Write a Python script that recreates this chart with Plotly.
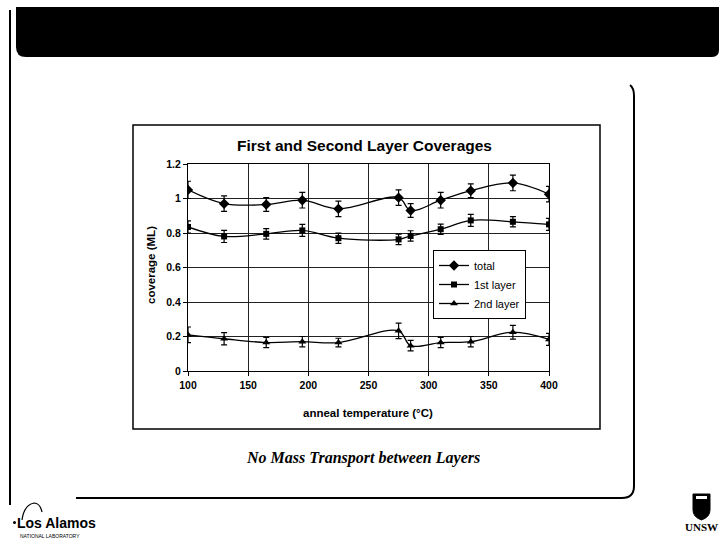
import plotly.graph_objects as go

# ---- data ----
temperature = [100, 130, 165, 195, 225, 275, 285, 310, 335, 370, 400]
total = [1.05, 0.97, 0.965, 0.99, 0.94, 1.005, 0.93, 0.99, 1.045, 1.09, 1.025]
total_err = [0.05, 0.045, 0.04, 0.045, 0.045, 0.045, 0.04, 0.045, 0.04, 0.045, 0.045]
first_layer = [0.835, 0.78, 0.795, 0.815, 0.77, 0.763, 0.783, 0.822, 0.873, 0.865, 0.85]
first_err = [0.035, 0.035, 0.03, 0.035, 0.03, 0.03, 0.03, 0.03, 0.035, 0.03, 0.035]
second_layer = [0.21, 0.187, 0.165, 0.17, 0.165, 0.233, 0.147, 0.165, 0.17, 0.225, 0.183]
second_err = [0.045, 0.035, 0.03, 0.03, 0.025, 0.045, 0.03, 0.03, 0.03, 0.04, 0.035]
x_ticks = [100, 150, 200, 250, 300, 350, 400]
y_ticks = [0, 0.2, 0.4, 0.6, 0.8, 1.0, 1.2]
y_tick_labels = ["0", "0.2", "0.4", "0.6", "0.8", "1", "1.2"]

W, H = 719, 542
SANS = "Arial, Liberation Sans, sans-serif"
SERIF = "Times New Roman, Liberation Serif, serif"


def xp(px):
    return px / W


def yp(py):
    return 1 - py / H


fig = go.Figure()

series = [
    ("total", total, total_err, "diamond", 8),
    ("1st layer", first_layer, first_err, "square", 6),
    ("2nd layer", second_layer, second_err, "triangle-up", 7),
]
for name, vals, errs, sym, size in series:
    fig.add_trace(go.Scatter(
        x=temperature, y=vals, name=name, mode="lines+markers",
        line=dict(color="black", width=1.3, shape="spline", smoothing=1),
        marker=dict(symbol=sym, size=size, color="black"),
        error_y=dict(type="data", array=errs, visible=True, color="black",
                     thickness=1.2, width=3),
    ))

axis_common = dict(
    showgrid=True, gridcolor="#222", gridwidth=1,
    showline=True, linecolor="black", linewidth=1, mirror=True,
    ticks="outside", ticklen=4, tickcolor="black",
    tickfont=dict(family=SANS, size=10.5, color="black", weight="bold"),
    zeroline=False, fixedrange=True, automargin=False,
)

fig.update_layout(
    width=W, height=H,
    margin=dict(l=0, r=0, t=0, b=0, autoexpand=False),
    paper_bgcolor="white", plot_bgcolor="white",
    showlegend=True,
    xaxis=dict(domain=[xp(188), xp(549)], range=[100, 400],
               tickvals=x_ticks, **axis_common),
    yaxis=dict(domain=[yp(371), yp(164)], range=[0, 1.2],
               tickvals=y_ticks, ticktext=y_tick_labels, **axis_common),
    legend=dict(x=xp(433), y=yp(250), xanchor="left", yanchor="top",
                bgcolor="white", bordercolor="black", borderwidth=1,
                font=dict(family=SANS, size=11, color="black"),
                tracegroupgap=0, itemwidth=30),
)

annotations = [
    dict(text="<b>First and Second Layer Coverages</b>", x=xp(365), y=yp(145),
         font=dict(family=SANS, size=15.5, color="black")),
    dict(text="<b>anneal temperature (°C)</b>", x=xp(368), y=yp(413),
         font=dict(family=SANS, size=11.5, color="black")),
    dict(text="<b>coverage (ML)</b>", x=xp(151), y=yp(265), textangle=-90,
         font=dict(family=SANS, size=11.5, color="black")),
    dict(text="<b><i>No Mass Transport between Layers</i></b>", x=xp(363), y=yp(458),
         font=dict(family=SERIF, size=16, color="black")),
    dict(text="<b>Los Alamos</b>", x=xp(56), y=yp(523),
         font=dict(family="Liberation Sans Narrow, Arial Narrow, sans-serif", size=14, color="black")),
    dict(text="NATIONAL LABORATORY", x=xp(50), y=yp(536),
         font=dict(family=SANS, size=5, color="black")),
    dict(text="<b>UNSW</b>", x=xp(701), y=yp(527),
         font=dict(family=SERIF, size=11, color="black")),
]
for a in annotations:
    a.update(xref="paper", yref="paper", showarrow=False, xanchor="center", yanchor="middle")
fig.update_layout(annotations=annotations)

shapes = []
# chart frame
shapes.append(dict(type="rect", xref="paper", yref="paper",
                   x0=xp(133), x1=xp(600), y0=yp(429), y1=yp(125),
                   line=dict(color="black", width=1.5), fillcolor="rgba(0,0,0,0)", layer="below"))
# black header band with rounded lower-left corner
band = (f"M {xp(16)},{yp(7)} L {xp(719)},{yp(7)} L {xp(719)},{yp(50)} "
        f"Q {xp(719)},{yp(57)} {xp(712)},{yp(57)} L {xp(26)},{yp(57)} "
        f"Q {xp(16)},{yp(57)} {xp(16)},{yp(47)} Z")
shapes.append(dict(type="path", xref="paper", yref="paper", path=band,
                   fillcolor="black", line=dict(color="black", width=0)))
# left slide rule
shapes.append(dict(type="line", xref="paper", yref="paper",
                   x0=xp(10), x1=xp(10), y0=yp(10), y1=yp(505),
                   line=dict(color="black", width=2)))
# right rounded content border
border = (f"M {xp(630)},{yp(85)} Q {xp(634)},{yp(88)} {xp(634)},{yp(96)} "
          f"L {xp(634)},{yp(486)} Q {xp(634)},{yp(498)} {xp(622)},{yp(498)} "
          f"L {xp(76)},{yp(498)}")
shapes.append(dict(type="path", xref="paper", yref="paper", path=border,
                   line=dict(color="black", width=2)))
# Los Alamos mesa arc
arc = (f"M {xp(22)},{yp(520)} Q {xp(24)},{yp(505)} {xp(34)},{yp(503)} "
       f"Q {xp(40)},{yp(503)} {xp(42)},{yp(512)}")
shapes.append(dict(type="path", xref="paper", yref="paper", path=arc,
                   line=dict(color="black", width=1.2)))
shapes.append(dict(type="circle", xref="paper", yref="paper",
                   x0=xp(13), x1=xp(16), y0=yp(524), y1=yp(521),
                   fillcolor="black", line=dict(width=0)))
# UNSW shield
shield = (f"M {xp(693)},{yp(494)} L {xp(710)},{yp(494)} L {xp(710)},{yp(510)} "
          f"Q {xp(710)},{yp(517)} {xp(701.5)},{yp(520)} Q {xp(693)},{yp(517)} {xp(693)},{yp(510)} Z")
shapes.append(dict(type="path", xref="paper", yref="paper", path=shield,
                   fillcolor="black", line=dict(color="black", width=1)))
shapes.append(dict(type="rect", xref="paper", yref="paper",
                   x0=xp(696), x1=xp(707), y0=yp(499), y1=yp(496),
                   fillcolor="white", line=dict(width=0)))
fig.update_layout(shapes=shapes)

fig.write_html(
    "out.html",
    config={"displayModeBar": False, "staticPlot": True},
    post_script="document.body.style.margin='0';document.body.style.overflow='hidden';",
)
